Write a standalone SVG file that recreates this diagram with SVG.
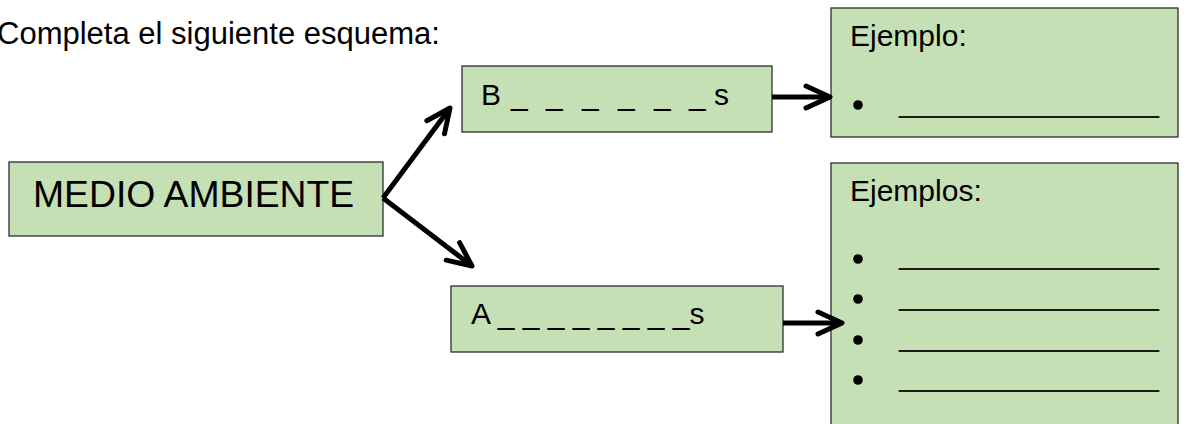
<svg xmlns="http://www.w3.org/2000/svg" width="1189" height="424" viewBox="0 0 1189 424">
<style>
text{font-family:"Liberation Sans",Arial,sans-serif;fill:#000}
.box{fill:#C5E0B4;stroke:#2f2f2f;stroke-width:1.3}
.t{font-size:30px}
.blank{font-size:30px;fill:#1a1a1a}
.conn{stroke:#000;stroke-width:5;fill:none;stroke-linecap:butt}
</style>
<defs>
<marker id="arr" markerUnits="userSpaceOnUse" markerWidth="40" markerHeight="40" refX="0" refY="0" orient="auto" viewBox="-30 -20 40 40" overflow="visible">
<path d="M-24,-11 L0,0 L-24,11" fill="none" stroke="#000" stroke-width="5" stroke-linecap="round" stroke-linejoin="round"/>
</marker>
</defs>
<rect width="1189" height="424" fill="#fff"/>
<text x="-3" y="44" font-size="31">Completa el siguiente esquema:</text>
<g id="medio">
<rect class="box" x="9" y="162" width="374" height="74"/>
<text x="33" y="207" font-size="37.3">MEDIO AMBIENTE</text>
</g>
<g id="bnode">
<rect class="box" x="462" y="66" width="310" height="66"/>
<text class="t" y="105"><tspan x="481">B</tspan> <tspan x="511">_</tspan> <tspan x="546">_</tspan> <tspan x="582">_</tspan> <tspan x="618">_</tspan> <tspan x="654">_</tspan> <tspan x="689">_</tspan><tspan x="714">s</tspan></text>
</g>
<g id="anode">
<rect class="box" x="451" y="286" width="332" height="66"/>
<text class="t" x="471" y="324">A _ _ _ _ _ _ _ _s</text>
</g>
<g id="ejemplo">
<rect class="box" x="831" y="8" width="347" height="129"/>
<text class="t" x="850" y="46">Ejemplo:</text>
<circle cx="858" cy="105" r="4.8"/>
<text class="blank" x="899" y="112" textLength="260" lengthAdjust="spacingAndGlyphs">________________</text>
</g>
<g id="ejemplos">
<rect class="box" x="831" y="163" width="347" height="270"/>
<text class="t" x="850" y="201">Ejemplos:</text>
<circle cx="858" cy="259" r="4.8"/>
<circle cx="858" cy="299" r="4.8"/>
<circle cx="858" cy="340" r="4.8"/>
<circle cx="858" cy="380" r="4.8"/>
<text class="blank" x="899" y="264" textLength="260" lengthAdjust="spacingAndGlyphs">________________</text>
<text class="blank" x="899" y="305" textLength="260" lengthAdjust="spacingAndGlyphs">________________</text>
<text class="blank" x="899" y="346" textLength="260" lengthAdjust="spacingAndGlyphs">________________</text>
<text class="blank" x="899" y="386" textLength="260" lengthAdjust="spacingAndGlyphs">________________</text>
</g>
<g id="connectors">
<path class="conn" d="M383,198 L450,108" marker-end="url(#arr)"/>
<path class="conn" d="M383,198 L472,266" marker-end="url(#arr)"/>
<path class="conn" d="M772,97 L830,97" marker-end="url(#arr)"/>
<path class="conn" d="M783,323 L842,323" marker-end="url(#arr)"/>
</g>
</svg>
